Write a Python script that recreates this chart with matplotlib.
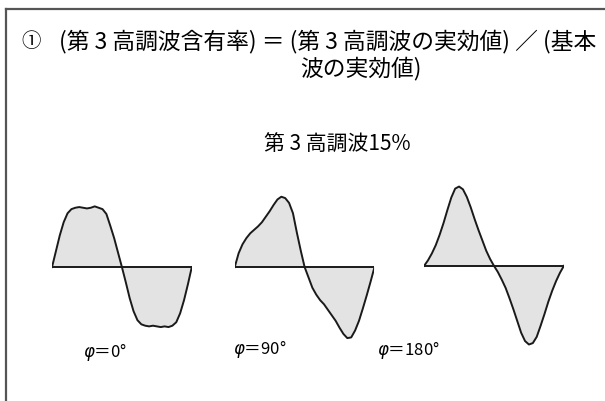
import matplotlib
matplotlib.use('Agg')
import matplotlib.pyplot as plt
from matplotlib.lines import Line2D

plt.rcParams['font.family'] = ['Noto Sans CJK JP', 'DejaVu Sans']
plt.rcParams['mathtext.fontset'] = 'dejavusans'

# phase angle of the fundamental, degrees
angles = list(range(0, 361, 10))

# waveform values (fundamental amplitude = 1)
wave_0 = [0, 0.23, 0.46, 0.65, 0.78, 0.84, 0.86, 0.87, 0.86, 0.85,
          0.86, 0.88, 0.86, 0.84, 0.77, 0.60, 0.42, 0.21, 0,
          -0.22, -0.45, -0.64, -0.77, -0.83, -0.85, -0.86, -0.85, -0.86,
          -0.87, -0.86, -0.87, -0.85, -0.80, -0.67, -0.48, -0.25, 0]
wave_90 = [0, 0.20, 0.33, 0.42, 0.49, 0.54, 0.59, 0.65, 0.73, 0.81,
           0.90, 0.98, 1.02, 1.00, 0.93, 0.78, 0.50, 0.24, 0,
           -0.15, -0.30, -0.40, -0.48, -0.54, -0.62, -0.70, -0.78, -0.88,
           -0.97, -1.03, -1.02, -0.92, -0.78, -0.60, -0.41, -0.21, 0]
wave_180 = [0, 0.08, 0.18, 0.30, 0.45, 0.62, 0.81, 0.99, 1.12, 1.15,
            1.11, 1.00, 0.85, 0.68, 0.52, 0.37, 0.22, 0.10, 0,
            -0.09, -0.20, -0.32, -0.47, -0.63, -0.80, -0.97, -1.09, -1.14,
            -1.12, -1.03, -0.87, -0.70, -0.52, -0.36, -0.22, -0.10, 0]

waves = [wave_0, wave_90, wave_180]
phase_labels = [r'$\varphi$＝0°', r'$\varphi$＝90°', r'$\varphi$＝180°']

title_num = '①'
title_1 = '(第 3 高調波含有率) ＝ (第 3 高調波の実効値) ／ (基本'
title_2 = '波の実効値)'
subtitle = '第 3 高調波15%'

fig = plt.figure(figsize=(6.05, 4.01), dpi=100)

# frame (cut off at right and bottom)
fig.add_artist(Line2D([0.0105, 0.0105], [0, 0.978], color='#555555', lw=1.6))
fig.add_artist(Line2D([0.0105, 1], [0.978, 0.978], color='#555555', lw=1.6))

fig.text(0.036, 0.897, title_num, fontsize=14, va='center', ha='left')
fig.text(0.098, 0.897, title_1, fontsize=16.4, va='center', ha='left')
fig.text(0.497, 0.830, title_2, fontsize=16.4, va='center', ha='left')
fig.text(0.558, 0.638, subtitle, fontsize=15, va='center', ha='center')

ax_lefts = [0.086, 0.388, 0.701]
ax_bottoms = [0.119, 0.119, 0.122]
label_pos = [(0.174, 0.122), (0.430, 0.130), (0.675, 0.127)]

for wave, left, bottom, lab, (lx, ly) in zip(waves, ax_lefts, ax_bottoms, phase_labels, label_pos):
    ax = fig.add_axes([left, bottom, 0.231, 0.430])
    ax.fill_between(angles, wave, 0, color='#e3e3e3', lw=0)
    ax.plot(angles, wave, color='#1a1a1a', lw=1.4)
    ax.hlines(0, angles[0], angles[-1], color='#1a1a1a', lw=1.4)
    ax.set_xlim(angles[0], angles[-1])
    ax.set_ylim(-1.25, 1.25)
    ax.axis('off')
    fig.text(lx, ly, lab, fontsize=12, va='center', ha='center')

fig.savefig('out.png', dpi=100)
